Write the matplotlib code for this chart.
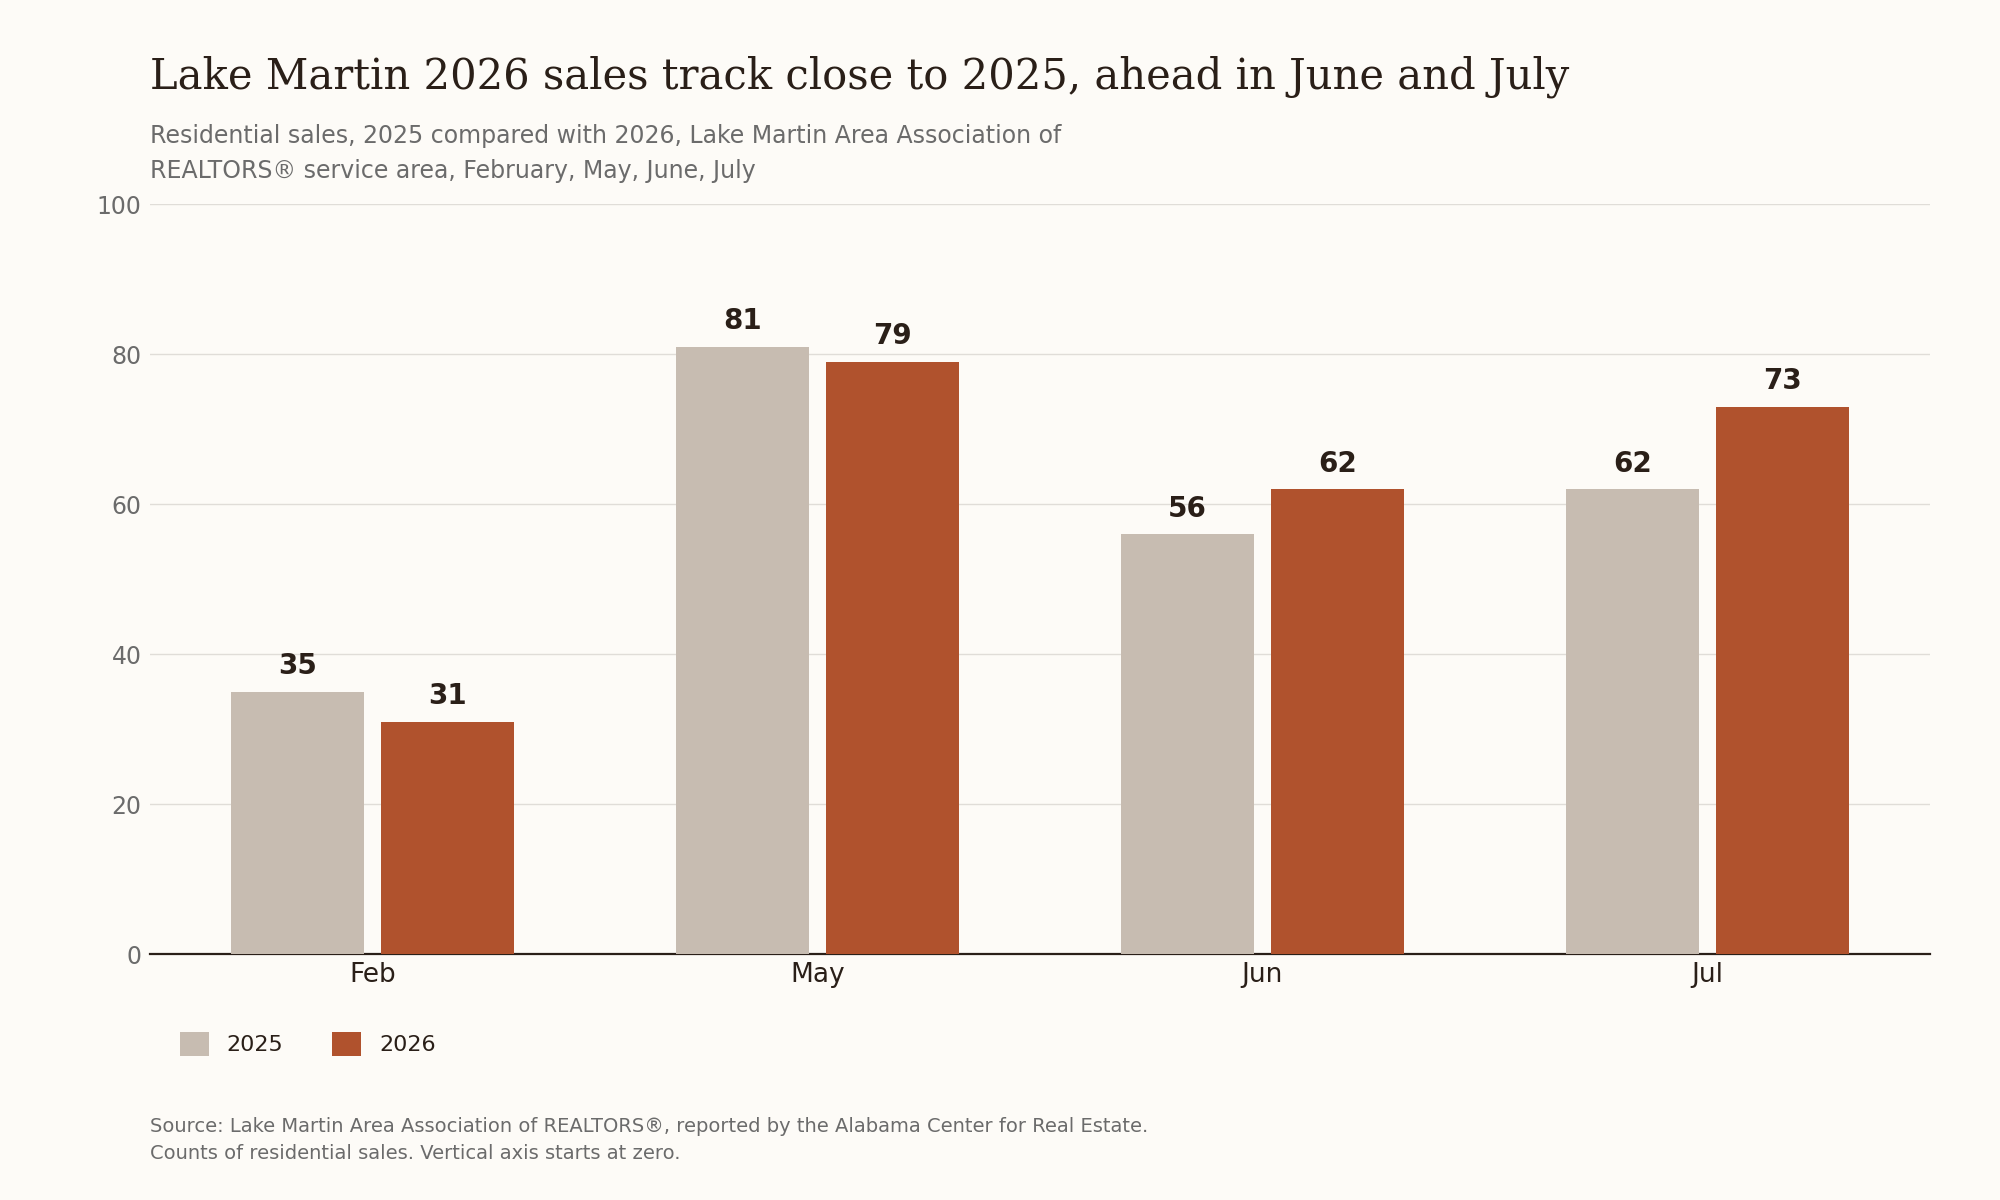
import matplotlib.pyplot as plt
import numpy as np

months = ["Feb", "May", "Jun", "Jul"]
sales_2025 = [35, 81, 56, 62]
sales_2026 = [31, 79, 62, 73]

BG = "#fdfbf7"
C25 = "#c7bcb1"
C26 = "#b0522d"
DARK = "#2a1f18"
GRAY = "#6b6b6b"

fig = plt.figure(figsize=(20, 12), dpi=100, facecolor=BG)
ax = fig.add_axes([0.075, 0.205, 0.89, 0.625], facecolor=BG)

x = np.arange(len(months))
off, w = 0.169, 0.30
b1 = ax.bar(x - off, sales_2025, w, color=C25, label="2025", zorder=3)
b2 = ax.bar(x + off, sales_2026, w, color=C26, label="2026", zorder=3)
for bars in (b1, b2):
    for b in bars:
        ax.text(b.get_x() + b.get_width() / 2, b.get_height() + 1.5, f"{int(b.get_height())}",
                ha="center", va="bottom", fontsize=20, fontweight="bold", color=DARK)

ax.set_xlim(-0.5, 3.5)
ax.set_ylim(0, 100)
ax.set_yticks(range(0, 101, 20))
ax.set_xticks(x)
ax.set_xticklabels(months, fontsize=19, color=DARK)
ax.tick_params(axis="y", labelsize=17, labelcolor=GRAY, length=0, pad=6)
ax.tick_params(axis="x", length=0, pad=6)
ax.grid(axis="y", color="#e0ddd8", linewidth=1, zorder=0)
for s in ("top", "right", "left"):
    ax.spines[s].set_visible(False)
ax.spines["bottom"].set_color(DARK)
ax.spines["bottom"].set_linewidth(1.6)

fig.text(0.075, 0.936, "Lake Martin 2026 sales track close to 2025, ahead in June and July",
         family="DejaVu Serif", fontsize=30, color=DARK, va="center")
fig.text(0.075, 0.872, "Residential sales, 2025 compared with 2026, Lake Martin Area Association of\n"
         "REALTORS® service area, February, May, June, July",
         fontsize=17, color=GRAY, va="center", linespacing=1.55)

fig.legend(handles=[b1, b2], loc="center left", bbox_to_anchor=(0.08, 0.13), ncol=2,
           frameon=False, fontsize=16, handlelength=1.3, handleheight=1.3, columnspacing=2.2,
           labelcolor=DARK)

fig.text(0.075, 0.05, "Source: Lake Martin Area Association of REALTORS®, reported by the Alabama Center for Real Estate.\n"
         "Counts of residential sales. Vertical axis starts at zero.",
         fontsize=14, color=GRAY, va="center", linespacing=1.55)

fig.savefig("out.png", facecolor=BG)
